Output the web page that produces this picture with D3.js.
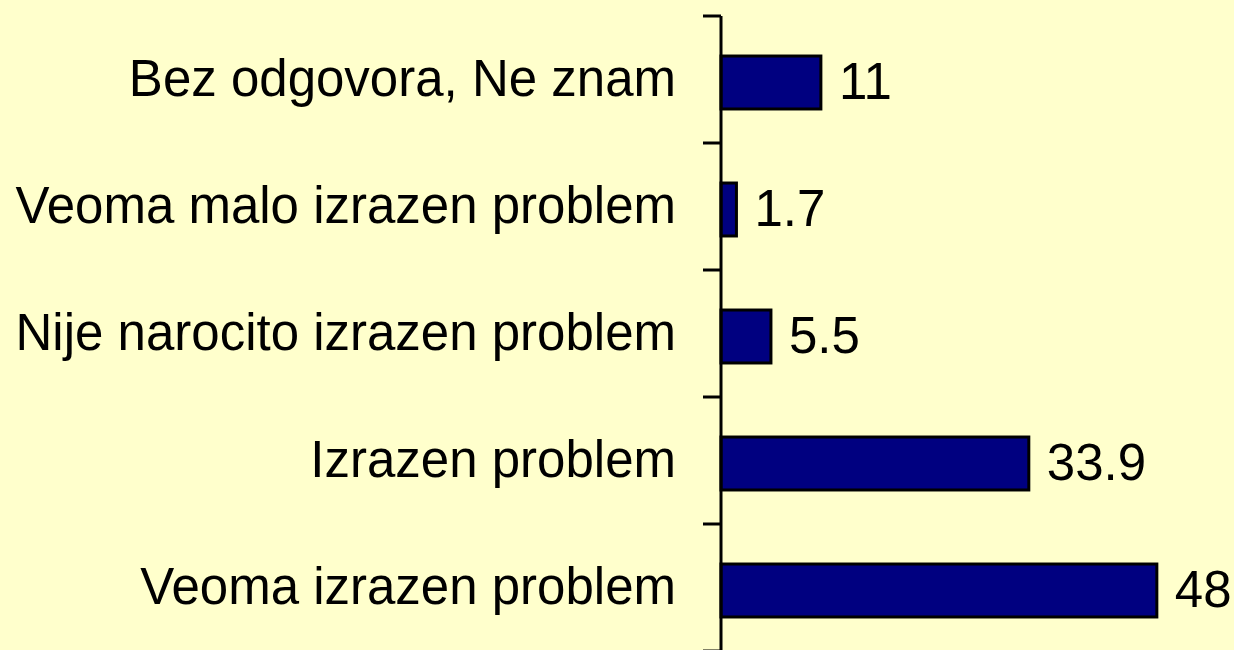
<!DOCTYPE html>
<html lang="en">
<head>
  <meta charset="UTF-8">
  <title>Izrazen problem</title>
  <script src="https://d3js.org/d3.v7.min.js"></script>
  <style>
    html, body { margin: 0; padding: 0; background: #ffffcc; }
    svg { display: block; }
    text { font-family: "Liberation Sans", Arial, sans-serif; fill: #000; }
  </style>
</head>
<body>
  <div id="chart"></div>
  <script>
    const categories = [
      'Bez odgovora, Ne znam',
      'Veoma malo izrazen problem',
      'Nije narocito izrazen problem',
      'Izrazen problem',
      'Veoma izrazen problem'
    ];
    const values = [11, 1.7, 5.5, 33.9, 48];

    const width = 1234, height = 650;
    const axisX = 721, plotTop = 16, plotBottom = 651;

    const svg = d3.select('#chart').append('svg')
      .attr('width', width)
      .attr('height', height);

    svg.append('rect')
      .attr('width', width).attr('height', height)
      .attr('fill', '#ffffcc');

    const x = d3.scaleLinear().domain([0, 50]).range([axisX, 1175]);
    const y = d3.scaleBand().domain(categories).range([plotTop, plotBottom])
      .paddingInner(0.583).paddingOuter(0.2915);

    const data = categories.map((c, i) => ({ cat: c, val: values[i] }));

    // bars (sit a touch below band centre, like the original)
    svg.append('g')
      .selectAll('rect')
      .data(data)
      .enter().append('rect')
      .attr('x', x(0))
      .attr('y', d => y(d.cat) + 3)
      .attr('width', d => x(d.val) - x(0))
      .attr('height', y.bandwidth())
      .attr('fill', '#000080')
      .attr('stroke', '#000')
      .attr('stroke-width', 3);

    // value labels
    svg.append('g')
      .selectAll('text')
      .data(data)
      .enter().append('text')
      .attr('x', d => x(d.val) + 18)
      .attr('y', d => y(d.cat) + 2 + y.bandwidth() / 2)
      .attr('dy', '0.35em')
      .attr('font-size', 51)
      .text(d => d.val);

    // category axis
    const yAxis = d3.axisLeft(y).tickSize(0).tickPadding(45);
    const ax = svg.append('g')
      .attr('transform', `translate(${axisX},0)`)
      .call(yAxis);
    ax.select('.domain').remove();
    ax.selectAll('text')
      .attr('font-size', 51)
      .attr('font-family', '"Liberation Sans", Arial, sans-serif')
      .attr('fill', '#000')
      .attr('dy', '0.33em');

    // axis line and band boundary ticks
    svg.append('line')
      .attr('x1', axisX).attr('x2', axisX)
      .attr('y1', plotTop).attr('y2', height)
      .attr('stroke', '#000').attr('stroke-width', 3);

    const bounds = d3.range(categories.length + 1)
      .map(i => plotTop + i * (plotBottom - plotTop) / categories.length);
    svg.append('g')
      .selectAll('line')
      .data(bounds)
      .enter().append('line')
      .attr('x1', axisX - 18).attr('x2', axisX)
      .attr('y1', d => d).attr('y2', d => d)
      .attr('stroke', '#000').attr('stroke-width', 3);
  </script>
</body>
</html>
